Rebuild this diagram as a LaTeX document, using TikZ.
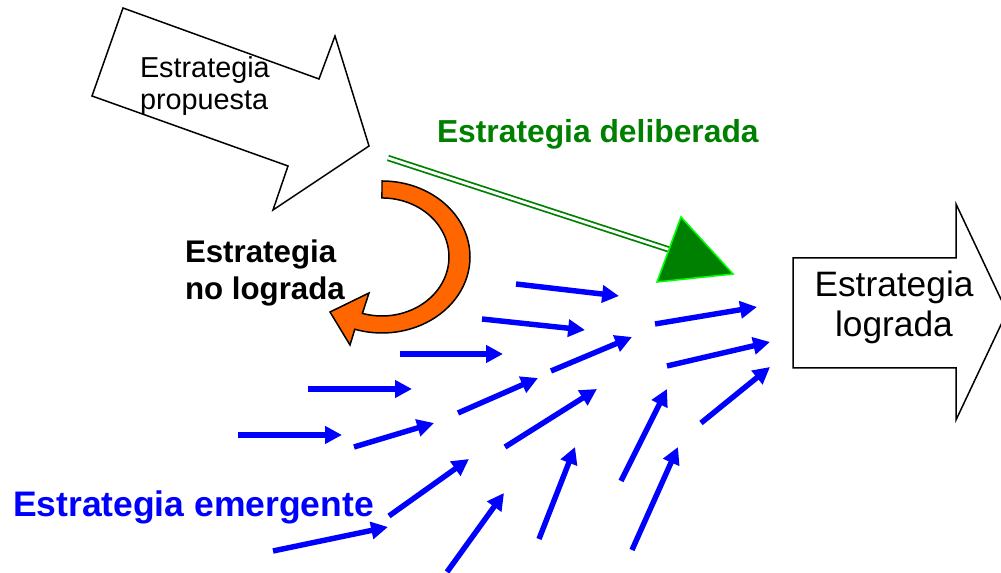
\documentclass[tikz,border=0pt]{standalone}
\usepackage{fontspec}
\setmainfont{Liberation Sans}
\usetikzlibrary{arrows.meta}
\definecolor{verde}{RGB}{0,128,0}
\definecolor{verdeclaro}{RGB}{0,255,0}
\definecolor{naranja}{RGB}{255,102,0}
\begin{document}
\begin{tikzpicture}[x=0.02cm,y=0.02cm,
  bloque/.style={draw=black,line width=0.85pt,fill=white},
  emer/.style={draw=blue,line width=3.1pt,-{Triangle[length=9.6pt,width=9.6pt]}},
  txt/.style={inner sep=0pt,outer sep=0pt}]
\newcommand\flecha[5]{
\coordinate (#1a) at (#2,#3);
\coordinate (#1b) at (#4,#5);
\path[emer] (#1a) -- (#1b);
}
\useasboundingbox (0,0) rectangle (1001,573);

\path[bloque] (123,565) -- (319,494) -- (335,537) -- (369,427) -- (273,363) -- (288,407) -- (92,477) -- cycle;
\path[bloque] (793,315) -- (956,315) -- (956,369) -- (1007,261) -- (956,153) -- (956,205) -- (793,205) -- cycle;

\coordinate (dini) at (388,415);
\coordinate (dfin) at (669,323.5);
\path[draw=verde,double=white,line width=1pt,double distance=1.6pt] (dini) -- (dfin);
\path[draw=verdeclaro,fill=verde,line width=0.9pt] (681,356) -- (733,299) -- (657,291) -- cycle;

\path[draw=black,fill=naranja,line width=0.85pt] (382,392) arc[start angle=90,end angle=-108,x radius=88,y radius=76] -- (350,228) -- (330,261) -- (369,280) -- (362.4,259.6) arc[start angle=-107,end angle=90,x radius=67,y radius=59] -- cycle;

\flecha{e1}{516}{289}{619}{277}
\flecha{e2}{482}{254}{585}{243}
\flecha{e3}{655}{249}{757}{266}
\flecha{e4}{400}{219}{503}{219}
\flecha{e5}{551}{202}{632}{236}
\flecha{e6}{667}{207}{770}{231}
\flecha{e7}{308}{184}{412}{184}
\flecha{e8}{458}{160}{538}{195}
\flecha{e9}{701}{150}{770}{206}
\flecha{e10}{238}{138}{342}{138}
\flecha{e11}{354}{126}{434}{150}
\flecha{e12}{505}{126}{597}{184}
\flecha{e13}{621}{92}{667}{184}
\flecha{e14}{389}{57}{469}{114}
\flecha{e15}{539}{34}{575}{126}
\flecha{e16}{273}{22}{388}{46}
\flecha{e17}{447}{1}{504}{80}
\flecha{e18}{632}{23}{678}{126}

\node[txt,anchor=north west,align=left,font=\fontsize{16.4}{18.1}\selectfont] (prop) at (140,516) {Estrategia\\propuesta};
\node[txt,anchor=north,align=center,font=\fontsize{20.1}{22.7}\selectfont] (logr) at (894,302) {Estrategia\\lograda};
\node[txt,anchor=base west,text=verde,font=\bfseries\fontsize{18.1}{21}\selectfont] (delib) at (437,430) {Estrategia deliberada};
\node[txt,anchor=north west,align=left,font=\bfseries\fontsize{17.8}{21}\selectfont] (nolog) at (185,333) {Estrategia\\no lograda};
\node[txt,anchor=base west,text=blue,font=\bfseries\fontsize{20.2}{24}\selectfont] (emerg) at (13,56) {Estrategia emergente};
\end{tikzpicture}
\end{document}
